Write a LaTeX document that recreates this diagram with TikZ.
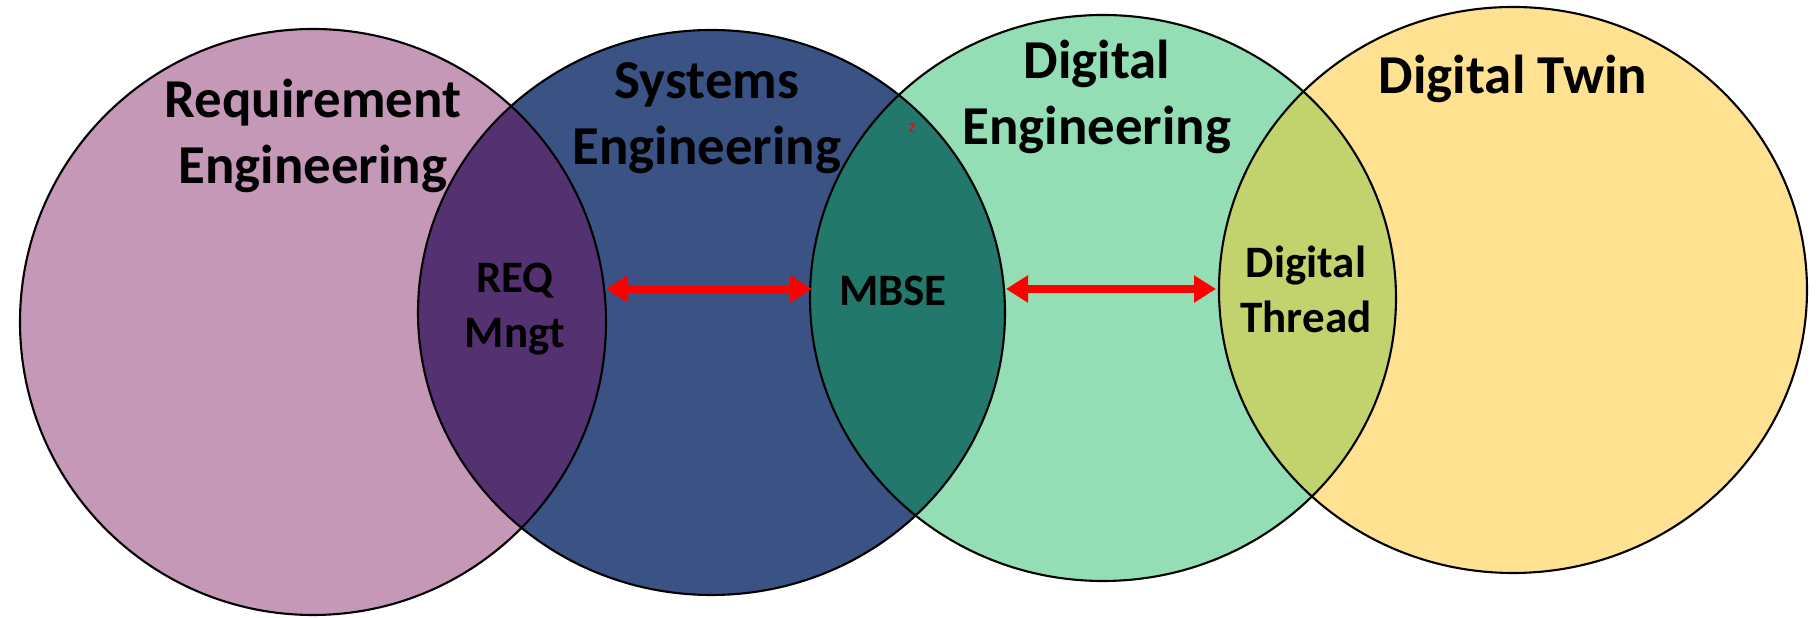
\documentclass[tikz,border=0pt]{standalone}
\usepackage{fontspec}
\setmainfont{Carlito}
\usetikzlibrary{arrows.meta}
\definecolor{reqpink}{HTML}{C698B8}
\definecolor{sysblue}{HTML}{3B5284}
\definecolor{diggreen}{HTML}{93DEB5}
\definecolor{twinyellow}{HTML}{FFE291}
\definecolor{reqpurple}{HTML}{543271}
\definecolor{mbseteal}{HTML}{22786A}
\definecolor{threadolive}{HTML}{C2D36D}
\tikzset{
  ring/.style={draw=black,line width=0.6pt},
  bigtext/.style={align=center,inner sep=0pt,font=\fontsize{15.6}{18.6}\selectfont\bfseries},
  midtext/.style={align=center,inner sep=0pt,font=\fontsize{12.8}{15.6}\selectfont\bfseries},
  link/.style={draw=red,line width=2pt,{Triangle[length=0.22cm,width=0.26cm]}-{Triangle[length=0.22cm,width=0.26cm]}}
}
\begin{document}
\begin{tikzpicture}
\fill[white] (0,0) rectangle (18.2,6.18);
\fill[reqpink] (3.13,2.96) circle [radius=2.93];
\fill[sysblue] (7.115,3.055) ellipse [x radius=2.935,y radius=2.825];
\fill[diggreen] (11.03,3.2) ellipse [x radius=2.93,y radius=2.83];
\fill[twinyellow] (15.13,3.28) ellipse [x radius=2.94,y radius=2.83];
\begin{scope}
\clip (3.13,2.96) circle [radius=2.93];
\fill[reqpurple] (7.115,3.055) ellipse [x radius=2.935,y radius=2.825];
\end{scope}
\begin{scope}
\clip (7.115,3.055) ellipse [x radius=2.935,y radius=2.825];
\fill[mbseteal] (11.03,3.2) ellipse [x radius=2.93,y radius=2.83];
\end{scope}
\begin{scope}
\clip (11.03,3.2) ellipse [x radius=2.93,y radius=2.83];
\fill[threadolive] (15.13,3.28) ellipse [x radius=2.94,y radius=2.83];
\end{scope}
\draw[ring] (3.13,2.96) circle [radius=2.93];
\draw[ring] (7.115,3.055) ellipse [x radius=2.935,y radius=2.825];
\draw[ring] (11.03,3.2) ellipse [x radius=2.93,y radius=2.83];
\draw[ring] (15.13,3.28) ellipse [x radius=2.94,y radius=2.83];
\node[bigtext] (reqeng) at (3.13,4.82) {Requirement\\Engineering};
\node[bigtext] (syseng) at (7.07,5.00) {Systems\\Engineering};
\node[bigtext] (digeng) at (10.97,5.21) {Digital\\Engineering};
\node[bigtext,anchor=base] (digtwin) at (15.13,5.24) {Digital Twin};
\node[midtext] (reqmngt) at (5.15,3.09) {REQ\\Mngt};
\node[midtext] (mbse) at (8.93,3.27) {MBSE};
\node[midtext] (digthread) at (13.06,3.29) {Digital\\Thread};
\node[text=red,inner sep=0pt,font=\fontsize{5}{6}\selectfont] (zmark) at (9.12,4.90) {z};
\coordinate (reqedge) at (6.06,3.29);
\coordinate (digleft) at (8.12,3.29);
\coordinate (sysright) at (10.06,3.29);
\coordinate (twinleft) at (12.16,3.29);
\draw[link] (reqedge) -- (digleft);
\draw[link] (sysright) -- (twinleft);
\end{tikzpicture}
\end{document}
